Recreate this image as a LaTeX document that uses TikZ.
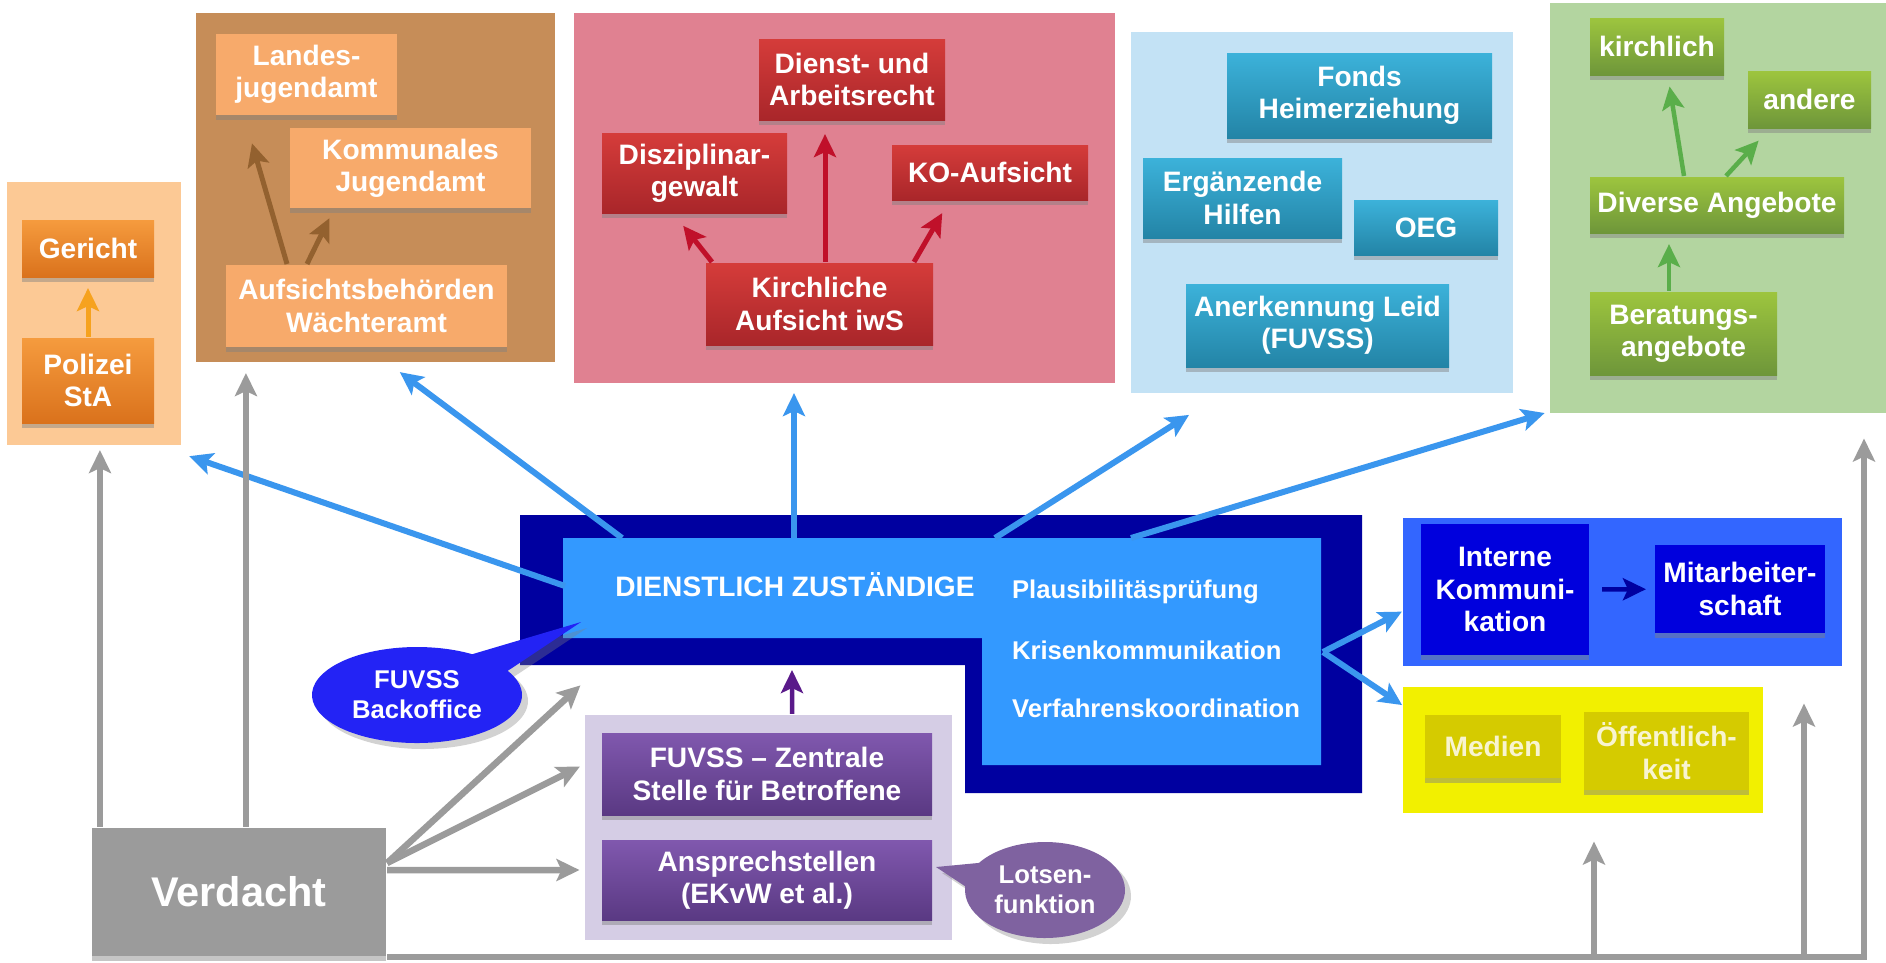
\documentclass[tikz,border=0pt]{standalone}
\usepackage{fontspec}
\setmainfont{Liberation Sans}
\usepackage{tikz}
\usetikzlibrary{arrows,arrows.meta,positioning,shapes.callouts,shadows}

\definecolor{peach}{HTML}{FCC995}
\definecolor{umber}{HTML}{C68D58}
\definecolor{rosy}{HTML}{E08191}
\definecolor{sky}{HTML}{C3E2F5}
\definecolor{moss}{HTML}{B3D5A0}
\definecolor{royal}{HTML}{3366FF}
\definecolor{lemon}{HTML}{F2F000}
\definecolor{lilac}{HTML}{D5CDE5}
\definecolor{navy}{HTML}{0000A0}
\definecolor{dodger}{HTML}{3399FF}
\definecolor{orT}{HTML}{F59B3E}
\definecolor{orB}{HTML}{DA721C}
\definecolor{apricot}{HTML}{F7AA6B}
\definecolor{redT}{HTML}{D53C3A}
\definecolor{redB}{HTML}{A9262A}
\definecolor{tealT}{HTML}{3CB2DA}
\definecolor{tealB}{HTML}{2384A6}
\definecolor{grnT}{HTML}{9DC53E}
\definecolor{grnB}{HTML}{6E963A}
\definecolor{purT}{HTML}{8058AE}
\definecolor{purB}{HTML}{5A3983}
\definecolor{deepblue}{HTML}{0000DD}
\definecolor{olive}{HTML}{D5CB00}
\definecolor{cream}{HTML}{F8F4D0}
\definecolor{arrblue}{HTML}{3A96EE}
\definecolor{arrgray}{HTML}{9B9B9B}
\definecolor{arrorange}{HTML}{F6A21E}
\definecolor{arrbrown}{HTML}{93612F}
\definecolor{arrred}{HTML}{C0102A}
\definecolor{arrgreen}{HTML}{5AAE4A}
\definecolor{arrpurple}{HTML}{5A1A8A}
\definecolor{callblue}{HTML}{2323F5}
\definecolor{lotsen}{HTML}{7F62A0}

\begin{document}
\begin{tikzpicture}[>={Stealth[length=2.3mm,width=2.2mm,inset=0.5mm]},shorten >=1pt,semithick,x=0.1mm,y=-0.1mm]
\tikzstyle{panel} = [rectangle,inner sep=0pt]
\tikzstyle{box} = [rectangle,inner sep=0pt,align=center,text=white,font=\bfseries\fontsize{8}{9.2}\selectfont,drop shadow={shadow xshift=0mm,shadow yshift=-0.5mm,opacity=0.45}]
\tikzstyle{obox} = [box,top color=orT,bottom color=orB]
\tikzstyle{lbox} = [box,fill=apricot]
\tikzstyle{rbox} = [box,top color=redT,bottom color=redB]
\tikzstyle{tbox} = [box,top color=tealT,bottom color=tealB]
\tikzstyle{gbox} = [box,top color=grnT,bottom color=grnB]
\tikzstyle{pbox} = [box,top color=purT,bottom color=purB]
\tikzstyle{nbox} = [box,fill=deepblue]
\tikzstyle{ybox} = [box,fill=olive,text=cream,drop shadow={opacity=0}]
\tikzstyle{txt} = [inner sep=0pt,text=white,font=\bfseries\fontsize{7.3}{8.5}\selectfont]
\tikzstyle{bubble} = [ellipse callout,inner sep=0pt,align=center,text=white,font=\bfseries\fontsize{7.3}{8.6}\selectfont,drop shadow={shadow xshift=0.6mm,shadow yshift=-0.6mm,opacity=0.35}]
\tikzset{sz/.style 2 args={minimum width=#1mm,minimum height=#2mm}}
\tikzset{aBlue/.style={->,draw=arrblue,line width=0.6mm}}
\tikzset{aGray/.style={->,draw=arrgray,line width=0.65mm}}
\tikzset{aOrange/.style={->,draw=arrorange,line width=0.5mm}}
\tikzset{aBrown/.style={->,draw=arrbrown,line width=0.5mm}}
\tikzset{aRed/.style={->,draw=arrred,line width=0.5mm}}
\tikzset{aGreen/.style={->,draw=arrgreen,line width=0.45mm}}
\tikzset{aPurple/.style={->,draw=arrpurple,line width=0.45mm}}
\tikzset{aNavy/.style={->,draw=navy,line width=0.45mm}}

\fill[white] (0,0) rectangle (1886,962);
\useasboundingbox (0,0) rectangle (1886,962);

\node[panel,fill=peach,sz={17.4}{26.3}] (pStraf) at (94,313.5) {};
\node[panel,fill=umber,sz={35.9}{34.9}] (pJugend) at (375.5,187.5) {};
\node[panel,fill=rosy,sz={54.1}{37.0}] (pKirche) at (844.5,198) {};
\node[panel,fill=sky,sz={38.2}{36.1}] (pHilfe) at (1322,212.5) {};
\node[panel,fill=moss,sz={33.6}{41.0}] (pBerat) at (1718,208) {};
\node[panel,fill=royal,sz={43.9}{14.8}] (pIntern) at (1622.5,592) {};
\node[panel,fill=lemon,sz={36.0}{12.6}] (pMedien) at (1583,750) {};
\node[panel,fill=lilac,sz={36.7}{22.5}] (pFuvss) at (768.5,827.5) {};

\node[obox,sz={13.2}{5.7}] (ger) at (88,248.5) {Gericht};
\node[obox,sz={13.2}{8.5}] (pol) at (88,380.5) {Polizei\\StA};

\node[lbox,sz={18.1}{8.1}] (lja) at (306.5,74.5) {Landes-\\jugendamt};
\node[lbox,sz={24.1}{8.0}] (kja) at (410.5,168) {Kommunales\\Jugendamt};
\node[lbox,sz={28.1}{8.2}] (auf) at (366.5,306) {Aufsichtsbehörden\\Wächteramt};

\node[rbox,sz={18.6}{8.1}] (dar) at (852,79.5) {Dienst- und\\Arbeitsrecht};
\node[rbox,sz={18.5}{8.0}] (dis) at (694.5,173) {Disziplinar-\\gewalt};
\node[rbox,sz={19.6}{5.5}] (koa) at (990,172.5) {KO-Aufsicht};
\node[rbox,sz={22.7}{8.2}] (kau) at (819.5,304) {Kirchliche\\Aufsicht iwS};

\node[tbox,sz={26.5}{8.5}] (fhe) at (1359.5,95.5) {Fonds\\Heimerziehung};
\node[tbox,sz={19.9}{8.0}] (erh) at (1242.5,198) {Ergänzende\\Hilfen};
\node[tbox,sz={14.4}{5.5}] (oeg) at (1426,227.5) {OEG};
\node[tbox,sz={26.3}{8.3}] (anl) at (1317.5,325.5) {Anerkennung Leid\\(FUVSS)};

\node[gbox,sz={13.4}{5.7}] (kil) at (1657,46.5) {kirchlich};
\node[gbox,sz={12.3}{5.7}] (and) at (1809.5,99.5) {andere};
\node[gbox,sz={25.4}{5.6}] (div) at (1717,205) {Diverse Angebote};
\node[gbox,sz={18.7}{8.3}] (ber) at (1683.5,333.5) {Beratungs-\\angebote};

\node[nbox,sz={16.8}{13.1}] (ikm) at (1505,589.5) {Interne\\Kommuni-\\kation};
\node[nbox,sz={17.0}{8.8}] (mit) at (1740,589) {Mitarbeiter-\\schaft};

\node[ybox,sz={13.6}{6.3}] (med) at (1493,746.5) {Medien};
\node[ybox,sz={16.5}{7.8}] (oef) at (1666.5,751) {Öffentlich-\\keit};

\node[pbox,sz={33.0}{8.2}] (zst) at (767,774) {FUVSS – Zentrale\\Stelle für Betroffene};
\node[pbox,sz={33.0}{8.0}] (asp) at (767,880) {Ansprechstellen\\(EKvW et al.)};

\node[box,fill=arrgray,sz={29.4}{12.8},drop shadow={opacity=0},font=\bfseries\fontsize{11.8}{14}\selectfont] (ver) at (239,892) {Verdacht};

\fill[navy] (520,515) -- (1362,515) -- (1362,793) -- (965,793) -- (965,665) -- (520,665) -- cycle;
\fill[dodger] (563,538) -- (1321,538) -- (1321,765) -- (982,765) -- (982,638) -- (563,638) -- cycle;
\node[txt,font=\bfseries\fontsize{8}{9.2}\selectfont] (dz) at (795,585) {DIENSTLICH ZUSTÄNDIGE};
\node[txt,anchor=west] (plp) at (1011,592) {Plausibilitäsprüfung};
\node[txt,anchor=west] (krk) at (1011,650) {Krisenkommunikation};
\node[txt,anchor=west] (vfk) at (1011,708) {Verfahrenskoordination};

\coordinate (dzW) at (565,586);
\coordinate (dzN1) at (622,538);
\coordinate (dzN2) at (794,538);
\coordinate (dzN3) at (995,538);
\coordinate (dzN4) at (1131,538);
\coordinate (dzE) at (1323,652);
\coordinate (dzS) at (792,665);
\coordinate (tStraf) at (186,455);
\coordinate (tJugend) at (397,370);
\coordinate (tHilfe) at (1192,413);
\coordinate (tBerat) at (1548,412);
\coordinate (tIntern) at (1405,610);
\coordinate (tMedien) at (1405,707);
\coordinate (tLja) at (251,140);
\coordinate (tKja) at (331,215);
\coordinate (tDis) at (681,223);
\coordinate (tKoa) at (944,210);
\coordinate (tKil) at (1669,83);
\coordinate (tAnd) at (1761,138);
\coordinate (tFan1) at (583,683);
\coordinate (tFan2) at (583,765);
\coordinate (tFan3) at (583,870);
\coordinate (gM) at (1594,838);
\coordinate (gI) at (1804,700);
\coordinate (gR) at (1864,435);
\coordinate (boTip) at (581,622);
\coordinate (loTip) at (936,867);

\node[bubble,fill=callblue,callout absolute pointer={(boTip)},callout pointer arc=28,sz={21.0}{9.6}] (bof) at (417,695) {FUVSS\\Backoffice};
\node[bubble,fill=lotsen,callout absolute pointer={(loTip)},callout pointer arc=30,sz={16.0}{9.6}] (lot) at (1045,890) {Lotsen-\\funktion};

\draw[aOrange,shorten >=1mm] (pol) -- (ger);
\draw[aBrown] ([xshift=-7.95mm]auf.north) -- (tLja);
\draw[aBrown] ([xshift=-5.95mm]auf.north) -- (tKja);
\draw[aRed,shorten >=1.3mm] ([xshift=0.55mm]kau.north) -- ([xshift=0.55mm]kau.north |- dar.south);
\draw[aRed] ([xshift=-10.75mm]kau.north) -- (tDis);
\draw[aRed] ([xshift=9.45mm]kau.north) -- (tKoa);
\draw[aGreen] ([xshift=-3.3mm]div.north) -- (tKil);
\draw[aGreen] ([xshift=0.9mm]div.north) -- (tAnd);
\draw[aGreen,shorten >=1mm] ([xshift=-1.45mm]ber.north) -- ([xshift=-1.45mm]ber.north |- div.south);
\draw[aPurple,shorten >=0.5mm] ([xshift=2.35mm]pFuvss.north) -- (dzS);
\draw[aNavy,shorten <=1.2mm,shorten >=0.8mm] (ikm) -- (mit);

\draw[aBlue] (dzW) -- (tStraf);
\draw[aBlue] (dzN1) -- (tJugend);
\draw[aBlue,shorten >=0.9mm] (dzN2) -- (dzN2 |- pKirche.south);
\draw[aBlue] (dzN3) -- (tHilfe);
\draw[aBlue] (dzN4) -- (tBerat);
\draw[aBlue] (dzE) -- (tIntern);
\draw[aBlue] (dzE) -- (tMedien);

\draw[aGray,shorten >=0.4mm] ([xshift=0.9mm]ver.north west) coordinate (g1) -- (g1 |- pStraf.south);
\draw[aGray,shorten >=1mm] ([xshift=15.5mm]ver.north west) coordinate (g2) -- (g2 |- pJugend.south);
\draw[aGray] ([yshift=2.9mm]ver.east) -- (tFan1);
\draw[aGray] ([yshift=2.9mm]ver.east) -- (tFan2);
\draw[aGray] ([yshift=2.2mm]ver.east) -- (tFan3);
\draw[aGray] (ver.south east) -| (gR);
\draw[aGray] (gM |- ver.south) -- (gM);
\draw[aGray] (gI |- ver.south) -- (gI);
\end{tikzpicture}
\end{document}
